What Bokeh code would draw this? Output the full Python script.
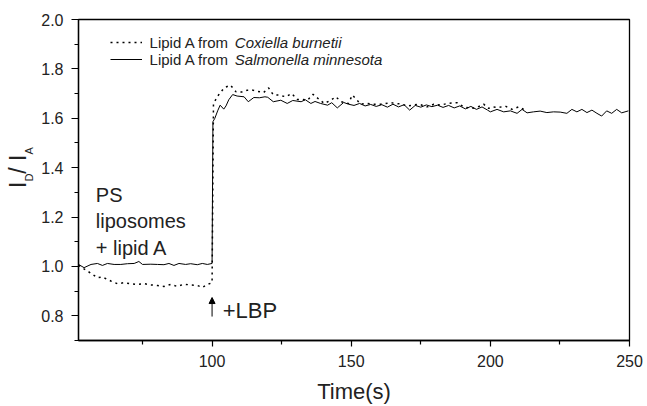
from bokeh.plotting import figure
from bokeh.models import (Range1d, FixedTicker, PrintfTickFormatter, Label, Legend, LegendItem,
                          Arrow, NormalHead, Div)
from bokeh.layouts import row
from bokeh.embed import file_html
from bokeh.resources import INLINE

# ---- data ----
salm_t = [52, 54, 56.5, 58.8, 60.6, 62.4, 64.8, 67.2, 69.6, 72, 73.7, 75, 78, 80.4, 82.7, 84.5,
          86.3, 88.1, 90.5, 92.3, 94.7, 96.5, 98.3, 100.0,
          100.3, 101, 102, 102.9, 104.2, 105, 106, 107.4, 109, 111.5, 113, 115, 117, 119, 120,
          122, 124.7, 127, 129, 132, 133.5, 135.5, 137, 139, 141.5, 143, 145, 147.3, 149,
          151, 153, 155, 157, 159, 161, 163, 165, 167, 169, 171, 173, 175, 177, 179, 181, 183,
          185, 187, 189, 191, 193, 195, 197, 199,
          200.0, 202.4, 204.8, 207.2, 209.6, 211.4, 213.2, 215.5, 217.9, 220.3, 222.7, 225.1,
          227.5, 229.3, 231.1, 232.9, 234.7, 236.5, 238.3, 240.0, 241.8, 243.6, 245.4, 247.2,
          249.6]
salm_v = [1.008, 0.995, 1.008, 1.012, 1.004, 1.012, 1.008, 1.008, 1.011, 1.012, 1.020, 1.008,
          1.009, 1.008, 1.007, 1.012, 1.004, 1.012, 1.008, 1.011, 1.007, 1.012, 1.008, 1.012,
          1.586, 1.600, 1.630, 1.653, 1.637, 1.650, 1.675, 1.696, 1.690, 1.687, 1.667, 1.684,
          1.683, 1.687, 1.685, 1.667, 1.673, 1.660, 1.672, 1.667, 1.675, 1.660, 1.668, 1.660,
          1.653, 1.663, 1.642, 1.664, 1.657,
          1.652, 1.660, 1.650, 1.656, 1.648, 1.655, 1.645, 1.657, 1.646, 1.655, 1.633, 1.652,
          1.645, 1.654, 1.647, 1.653, 1.644, 1.652, 1.642, 1.650, 1.638, 1.648, 1.636, 1.646,
          1.633,
          1.626, 1.636, 1.626, 1.630, 1.620, 1.636, 1.622, 1.626, 1.629, 1.623, 1.626, 1.625,
          1.620, 1.636, 1.626, 1.636, 1.623, 1.633, 1.620, 1.609, 1.630, 1.620, 1.636, 1.622,
          1.630]

cox_t = [52, 54, 56.5, 58.8, 60.6, 63.6, 66, 68.4, 70.8, 73.2, 75.6, 78, 80.4, 82.7, 85.1,
         87.5, 89.9, 92.3, 94.7, 96.5, 98.3, 100.0,
         100.5, 102.3, 104.4, 106.6, 108.6, 110.6, 112.5, 114.6, 116.4, 118.5, 120.3, 122,
         124, 126.5, 128.6, 130.7, 132.5, 134.3, 136.3, 138.5, 140.3, 142.7, 144.4, 146.5,
         149, 150.4, 153.4, 155.8, 158.2, 160.6, 164.2, 166.0, 168.4, 170.1, 174.3, 177.3,
         179.7, 182.1, 184.5, 188.0, 190.4, 193.4, 195.2, 197.6, 199.4, 200.6, 203.0, 205.4,
         207.8, 210.1, 211.3, 213.1]
cox_v = [1.005, 0.990, 0.972, 0.954, 0.957, 0.941, 0.930, 0.934, 0.930, 0.927, 0.930, 0.925,
         0.923, 0.919, 0.927, 0.919, 0.928, 0.925, 0.923, 0.915, 0.927, 0.934,
         1.660, 1.694, 1.724, 1.734, 1.707, 1.706, 1.713, 1.714, 1.709, 1.704, 1.723, 1.695,
         1.694, 1.687, 1.700, 1.676, 1.676, 1.673, 1.697, 1.676, 1.660, 1.673, 1.687, 1.667,
         1.660, 1.694, 1.657, 1.660, 1.657, 1.657, 1.663, 1.660, 1.657, 1.649, 1.657, 1.646,
         1.657, 1.653, 1.660, 1.663, 1.646, 1.640, 1.644, 1.657, 1.640, 1.646, 1.644, 1.649,
         1.636, 1.646, 1.640, 1.630]

x_ticks = [100, 150, 200, 250]
x_minor = [75, 125, 175, 225]
y_ticks = [0.8, 1.0, 1.2, 1.4, 1.6, 1.8, 2.0]
y_minor = [0.7, 0.9, 1.1, 1.3, 1.5, 1.7, 1.9]

FONT = "Liberation Sans"
TXT = "#222222"

p = figure(width=611, height=406, output_backend="svg", toolbar_location=None,
           x_range=Range1d(52, 250), y_range=Range1d(0.7, 2.0),
           min_border_left=42, min_border_right=18, min_border_top=19, min_border_bottom=64)
p.grid.visible = False
p.outline_line_color = "black"
p.outline_line_width = 1.3
p.background_fill_color = "white"
p.border_fill_color = "white"

# axes
p.xaxis.ticker = FixedTicker(ticks=x_ticks, minor_ticks=x_minor)
p.yaxis.ticker = FixedTicker(ticks=y_ticks, minor_ticks=y_minor)
p.yaxis.formatter = PrintfTickFormatter(format="%.1f")
for ax in (p.xaxis[0], p.yaxis[0]):
    ax.axis_line_color = "black"
    ax.axis_line_width = 1.3
    ax.major_tick_line_color = "black"
    ax.minor_tick_line_color = "black"
    ax.major_tick_line_width = 1.2
    ax.minor_tick_line_width = 1.2
    ax.major_tick_in = 0
    ax.minor_tick_in = 0
    ax.major_label_text_font = FONT
    ax.major_label_text_font_size = "16px"
    ax.major_label_text_color = TXT
p.xaxis.major_tick_out = 6
p.xaxis.minor_tick_out = 4
p.yaxis.major_tick_out = 7
p.yaxis.minor_tick_out = 4
p.xaxis.major_label_standoff = 8
p.yaxis.major_label_standoff = 8
p.xaxis.axis_label = "Time(s)"
p.xaxis.axis_label_text_font = FONT
p.xaxis.axis_label_text_font_style = "normal"
p.xaxis.axis_label_text_font_size = "22px"
p.xaxis.axis_label_text_color = TXT
p.xaxis.axis_label_standoff = 9

# data lines
r_cox = p.line(cox_t, cox_v, line_color="black", line_width=1.5, line_dash="2 4")
r_salm = p.line(salm_t, salm_v, line_color="black", line_width=1.0)

legend = Legend(items=[LegendItem(label="Lipid A from", renderers=[r_cox]),
                       LegendItem(label="Lipid A from", renderers=[r_salm])],
                location=(31.6, 272.2), orientation="vertical",
                glyph_width=32, glyph_height=14, label_height=14, spacing=0,
                padding=0, margin=0, label_standoff=8,
                label_text_font=FONT, label_text_font_size="15px", label_text_color=TXT,
                label_text_baseline="middle",
                border_line_alpha=0, background_fill_alpha=0)
p.add_layout(legend)

def lab(**kw):
    base = dict(text_font=FONT, text_color=TXT)
    base.update(kw)
    p.add_layout(Label(**base))

x0 = 52
# italic legend names
lab(x=x0, y=1.906, x_offset=156.3, text="Coxiella burnetii", text_font_size="15px",
    text_font_style="italic", text_baseline="middle")
lab(x=x0, y=1.838, x_offset=156.3, text="Salmonella minnesota", text_font_size="15px",
    text_font_style="italic", text_baseline="middle")

# annotations
lab(x=x0, y=1.335, x_offset=17.3, text="PS\nliposomes\n+ lipid A", text_font_size="20px",
    text_baseline="top", text_align="left")
lab(x=103.8, y=0.822, text="+LBP", text_font_size="22px", text_baseline="alphabetic",
    text_align="left")
p.add_layout(Arrow(end=NormalHead(size=6, fill_color="black", line_color="black", line_width=1),
                   x_start=100, y_start=0.797, x_end=100, y_end=0.874,
                   line_color="black", line_width=1))

# y-axis title I_D / I_A (rotated, with real subscripts)
ylab_html = (
    '<div style="position:absolute; left:6.5px; top:188px; transform:rotate(-90deg); '
    'transform-origin:0 0; white-space:nowrap; font-family:\'Liberation Sans\'; '
    'font-size:23px; line-height:23px; color:#222222;">'
    'I<span style="font-size:11px; line-height:0; vertical-align:-7px;">D</span>'
    '/ I<span style="font-size:11px; line-height:0; vertical-align:-7px;">A</span></div>'
)
ydiv = Div(text=ylab_html, width=36, height=406, margin=0,
           styles={"overflow": "visible", "position": "relative"})

layout = row(ydiv, p, spacing=0)
open("out.html", "w").write(file_html(layout, INLINE))
